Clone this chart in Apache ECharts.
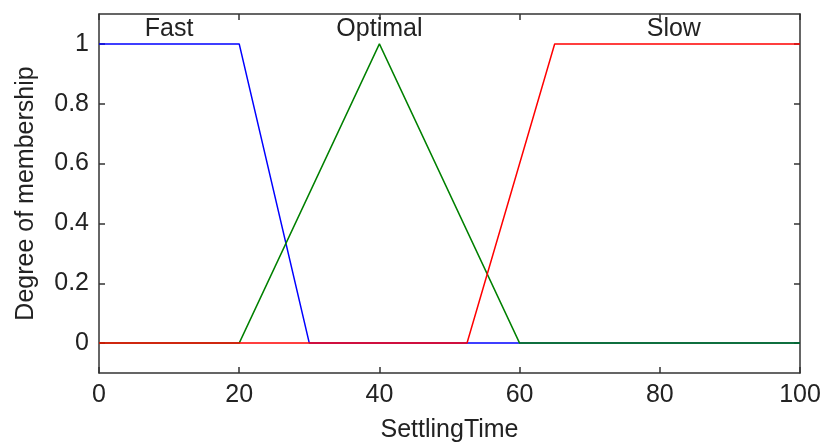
<!DOCTYPE html>
<html>
<head>
<meta charset="utf-8">
<script src="https://cdn.jsdelivr.net/npm/echarts@6/dist/echarts.min.js"></script>
<style>html,body{margin:0;padding:0;background:#fff}#c{width:824px;height:448px}</style>
</head>
<body>
<div id="c"></div>
<script>
// Membership functions (x, y) vertices
var fastX = [0, 20, 30, 100];
var fastY = [1, 1, 0, 0];
var optimalX = [0, 20, 40, 60, 100];
var optimalY = [0, 0, 1, 0, 0];
var slowX = [0, 52.5, 65, 100];
var slowY = [0, 0, 1, 1];
var mfNames = ['Fast', 'Optimal', 'Slow'];
var labelX = [10, 40, 82];
var labelY = [1.05, 1.05, 1.05];
var yTicks = [0, 0.2, 0.4, 0.6, 0.8, 1];
var xTicks = [0, 20, 40, 60, 80, 100];

function pairs(xs, ys) { return xs.map(function (x, i) { return [x, ys[i]]; }); }

var FONT = 'Liberation Sans, Arial, sans-serif';
var TXT = '#222';
var AX = '#333';
var chart = echarts.init(document.getElementById('c'), null, {renderer: 'canvas'});

function mfSeries(name, xs, ys, color, idx) {
  return {
    type: 'line', name: name, data: pairs(xs, ys), symbol: 'none',
    lineStyle: {color: color, width: 1.5}, itemStyle: {color: color},
    animation: false, silent: true, z: 2 + idx,
    markPoint: {
      symbol: 'circle', symbolSize: 0, silent: true, animation: false,
      data: [{coord: [labelX[idx], labelY[idx]], value: name}],
      label: {show: true, position: 'inside', formatter: name, color: TXT, fontSize: 25, fontFamily: FONT}
    }
  };
}

var lineSty = {show: true, onZero: false, lineStyle: {color: AX, width: 1.5}};
var tickSty = {show: true, inside: true, length: 6, lineStyle: {color: AX, width: 1.5}};

chart.setOption({
  backgroundColor: '#fff',
  animation: false,
  grid: {left: 99, right: 24, top: 14, bottom: 74, show: false},
  xAxis: [{
    type: 'value', min: 0, max: 100, interval: 20, position: 'bottom',
    name: 'SettlingTime', nameLocation: 'middle', nameGap: 45,
    nameTextStyle: {color: TXT, fontSize: 25, fontFamily: FONT},
    axisLine: lineSty, axisTick: tickSty,
    axisLabel: {color: TXT, fontSize: 25, fontFamily: FONT, margin: 10},
    splitLine: {show: false}
  }, {
    type: 'value', min: 0, max: 100, interval: 20, position: 'top',
    axisLine: lineSty, axisTick: tickSty,
    axisLabel: {show: false}, splitLine: {show: false}
  }],
  yAxis: [{
    type: 'value', min: -0.1, max: 1.1, position: 'left',
    name: 'Degree of membership', nameLocation: 'middle', nameGap: 60,
    nameTextStyle: {color: TXT, fontSize: 25, fontFamily: FONT},
    axisLine: lineSty,
    axisTick: {show: true, inside: true, length: 6, customValues: yTicks, lineStyle: {color: AX, width: 1.5}},
    axisLabel: {color: TXT, fontSize: 25, fontFamily: FONT, margin: 10, customValues: yTicks,
      formatter: function (v) { return String(Math.round(v * 10) / 10); }},
    splitLine: {show: false}
  }, {
    type: 'value', min: -0.1, max: 1.1, position: 'right',
    axisLine: lineSty,
    axisTick: {show: true, inside: true, length: 6, customValues: yTicks, lineStyle: {color: AX, width: 1.5}},
    axisLabel: {show: false}, splitLine: {show: false}
  }],
  series: [
    mfSeries(mfNames[0], fastX, fastY, '#0000ff', 0),
    mfSeries(mfNames[1], optimalX, optimalY, '#008000', 1),
    mfSeries(mfNames[2], slowX, slowY, '#ff0000', 2)
  ]
});
</script>
</body>
</html>
